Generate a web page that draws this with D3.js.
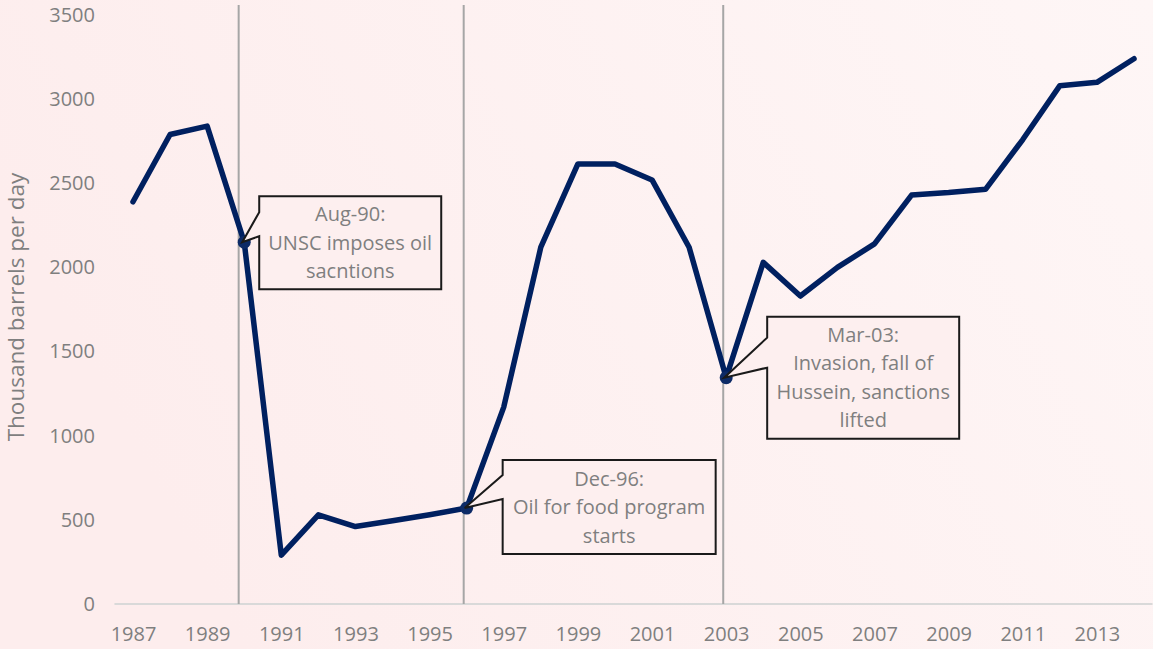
<!DOCTYPE html>
<html>
<head>
<meta charset="utf-8">
<script src="https://cdn.jsdelivr.net/npm/d3@7"></script>
<style>
  html, body { margin: 0; padding: 0; }
  body { width: 1153px; height: 649px; overflow: hidden; }
  svg { display: block; font-family: "Open Sans", sans-serif; }
</style>
</head>
<body>
<svg width="1153" height="649"></svg>
<script>
// -------------------- Data --------------------

// Iraq oil production, thousand barrels per day
const years = [1987, 1988, 1989, 1990, 1991, 1992, 1993, 1994, 1995, 1996,
  1997, 1998, 1999, 2000, 2001, 2002, 2003, 2004, 2005, 2006,
  2007, 2008, 2009, 2010, 2011, 2012, 2013, 2014];
const production = [2390, 2790, 2840, 2150, 290, 530, 460, 495, 530, 570,
  1170, 2120, 2615, 2615, 2520, 2120, 1345, 2030, 1830, 2000,
  2140, 2430, 2445, 2465, 2760, 3080, 3100, 3240];

const yTicks = [0, 500, 1000, 1500, 2000, 2500, 3000, 3500];
const xTicks = [1987, 1989, 1991, 1993, 1995, 1997, 1999, 2001, 2003, 2005, 2007, 2009, 2011, 2013];

// events: where the vertical rule sits, which data point the callout points at, text
const eventYears = [1989.85, 1995.92, 2002.92];
const eventAnchors = [1990, 1996, 2003];
const eventLabels = [
  ["Aug-90:", "UNSC imposes oil", "sacntions"],
  ["Dec-96:", "Oil for food program", "starts"],
  ["Mar-03:", "Invasion, fall of", "Hussein, sanctions", "lifted"]
];

// -------------------- Layout --------------------

// callout box geometry relative to the anchor point
const boxes = [
  { dx: 15, dy: -46, w: 182, h: 93, w0: 16, w1: 40 },
  { dx: 36, dy: -48, w: 213, h: 94, w0: 15, w1: 39 },
  { dx: 41, dy: -61, w: 192, h: 122, w0: 21, w1: 51 }
];

const svg = d3.select("svg");
const grey = "#7f7f7f";
const navy = "#002060";

// background
const defs = svg.append("defs");
const grad = defs.append("linearGradient")
  .attr("id", "bg")
  .attr("x1", "0").attr("y1", "0.3")
  .attr("x2", "1").attr("y2", "0");
grad.append("stop").attr("offset", "0").attr("stop-color", "#fdeded");
grad.append("stop").attr("offset", "1").attr("stop-color", "#fef6f6");
svg.append("rect")
  .attr("width", 1153).attr("height", 649)
  .attr("fill", "url(#bg)");

// scales
const x = d3.scaleLinear().domain([1987, 2014]).range([133, 1134]);
const y = d3.scaleLinear().domain([0, 3500]).range([604, 15]);

// x axis line
svg.append("line")
  .attr("x1", x(1986.5)).attr("x2", x(2014.5))
  .attr("y1", y(0)).attr("y2", y(0))
  .attr("stroke", "#d9d9d9")
  .attr("stroke-width", 2);

// x tick labels
svg.append("g")
  .attr("transform", `translate(0,${y(0)})`)
  .call(d3.axisBottom(x).tickValues(xTicks).tickFormat(d3.format("d")).tickSize(0).tickPadding(23))
  .call(g => g.select(".domain").remove())
  .selectAll("text")
  .attr("fill", grey)
  .style("font-size", "20px")
  .style("font-family", "Open Sans, sans-serif");

// y tick labels
svg.append("g")
  .attr("transform", "translate(95,0)")
  .call(d3.axisLeft(y).tickValues(yTicks).tickFormat(d3.format("d")).tickSize(0).tickPadding(0))
  .call(g => g.select(".domain").remove())
  .selectAll("text")
  .attr("fill", grey)
  .style("font-size", "20px")
  .style("font-family", "Open Sans, sans-serif");

// y axis title
svg.append("text")
  .attr("transform", "translate(24,307) rotate(-90)")
  .attr("text-anchor", "middle")
  .attr("fill", grey)
  .style("font-size", "22.5px")
  .text("Thousand barrels per day");

// vertical event rules
svg.selectAll(".event-rule")
  .data(eventYears)
  .enter().append("line")
  .attr("class", "event-rule")
  .attr("x1", d => x(d)).attr("x2", d => x(d))
  .attr("y1", 5).attr("y2", y(0))
  .attr("stroke", "#a6a6a6")
  .attr("stroke-width", 2);

// line
const data = years.map((yr, i) => ({ year: yr, value: production[i] }));
const line = d3.line()
  .x(d => x(d.year))
  .y(d => y(d.value));

svg.append("path")
  .datum(data)
  .attr("fill", "none")
  .attr("stroke", navy)
  .attr("stroke-width", 5.5)
  .attr("stroke-linejoin", "round")
  .attr("stroke-linecap", "round")
  .attr("d", line);

// markers at event points
const anchors = eventAnchors.map(yr => data.find(d => d.year === yr));
svg.selectAll(".dot")
  .data(anchors)
  .enter().append("circle")
  .attr("class", "dot")
  .attr("cx", d => x(d.year))
  .attr("cy", d => y(d.value))
  .attr("r", 6.5)
  .attr("fill", "#0d2a66");

// callouts
anchors.forEach((d, i) => {
  const b = boxes[i];
  const ax = x(d.year) - 2;
  const ay = y(d.value);
  const left = x(d.year) + b.dx;
  const top = y(d.value) + b.dy;
  const pts = [
    [left, top], [left + b.w, top], [left + b.w, top + b.h], [left, top + b.h],
    [left, top + b.w1], [ax, ay], [left, top + b.w0]
  ];
  svg.append("path")
    .attr("d", "M" + pts.map(p => p.join(",")).join("L") + "Z")
    .attr("fill", "#fdefef")
    .attr("stroke", "#1a1a1a")
    .attr("stroke-width", 2);

  const lines = eventLabels[i];
  const lh = 28.5;
  const cy = top + b.h / 2;
  svg.append("g")
    .selectAll("text")
    .data(lines)
    .enter().append("text")
    .attr("x", left + b.w / 2)
    .attr("y", (t, j) => cy + (j - (lines.length - 1) / 2) * lh)
    .attr("dy", "0.35em")
    .attr("text-anchor", "middle")
    .attr("fill", grey)
    .style("font-size", "20px")
    .text(t => t);
});
</script>
</body>
</html>
